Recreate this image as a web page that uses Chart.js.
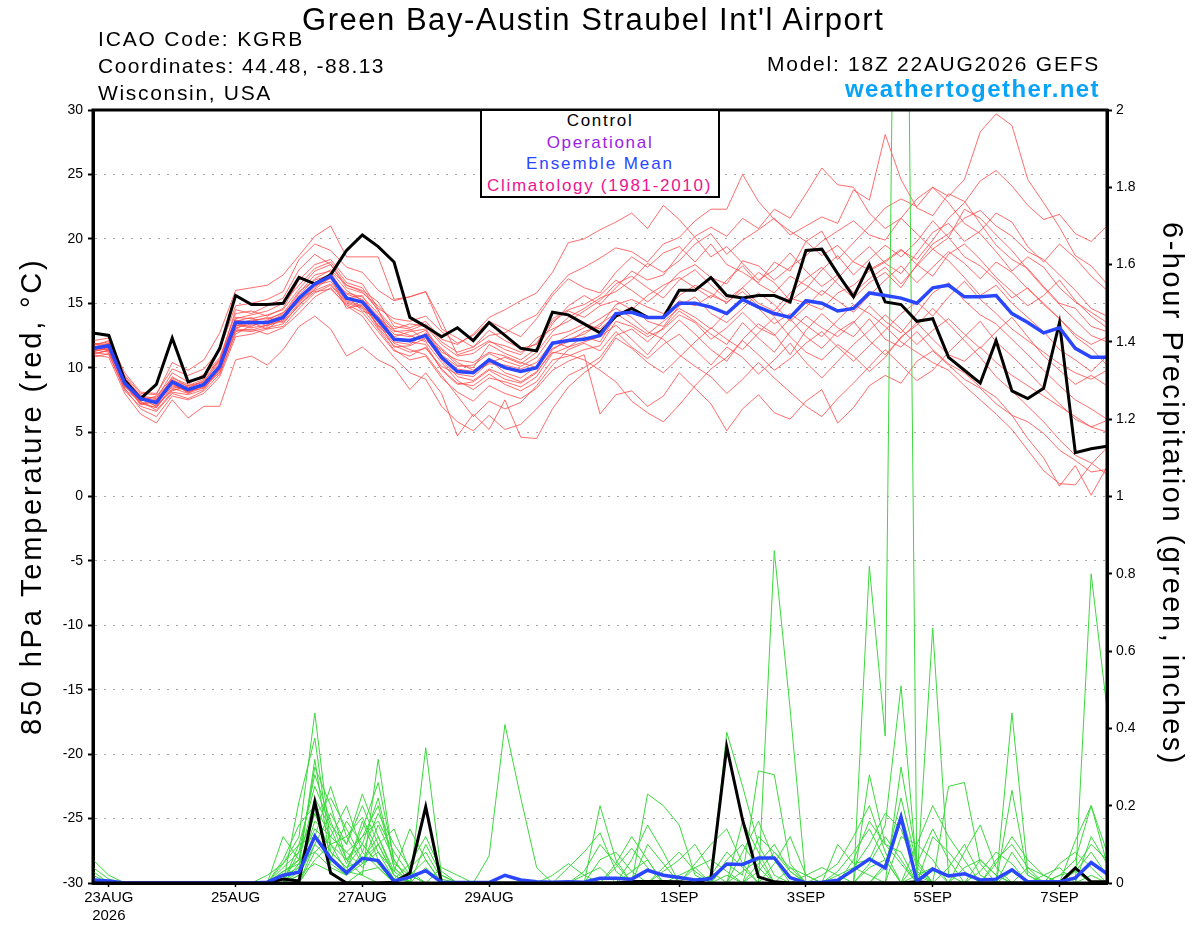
<!DOCTYPE html>
<html>
<head>
<meta charset="utf-8">
<script src="https://cdn.jsdelivr.net/npm/chart.js@4.4.1/dist/chart.umd.min.js"></script>
<style>
html,body{margin:0;padding:0;background:#fff;}
#wrap{position:relative;width:1200px;height:927px;overflow:hidden;font-family:"Liberation Sans",Arial,sans-serif;}
canvas{position:absolute;left:0;top:0;}
.t{position:absolute;white-space:nowrap;line-height:1;color:#000;}
#legend{position:absolute;left:480px;top:109px;width:236px;height:85px;border:2px solid #000;background:#fff;}
.rot{position:absolute;white-space:nowrap;line-height:1;transform-origin:0 0;font-size:29px;}
</style>
</head>
<body>
<div id="wrap">
<canvas id="c" width="1200" height="927"></canvas>
<div id="legend"></div>
<div class="t" id="title" style="font-size:31px;">Green Bay-Austin Straubel Int'l Airport</div>
<div class="t" id="icao" style="font-size:21px;">ICAO Code: KGRB</div>
<div class="t" id="coord" style="font-size:21px;">Coordinates: 44.48, -88.13</div>
<div class="t" id="state" style="font-size:21px;">Wisconsin, USA</div>
<div class="t" id="model" style="font-size:21px;">Model: 18Z 22AUG2026 GEFS</div>
<div class="t" id="site" style="font-size:24px;font-weight:bold;color:#08a2f6;">weathertogether.net</div>
<div class="t" id="lg1" style="font-size:17px;color:#000;">Control</div>
<div class="t" id="lg2" style="font-size:17px;color:#9a1ee6;">Operational</div>
<div class="t" id="lg3" style="font-size:17px;color:#2a46ff;">Ensemble Mean</div>
<div class="t" id="lg4" style="font-size:17px;color:#ee1490;">Climatology (1981-2010)</div>
<div class="rot" id="ytitle">850 hPa Temperature (red, °C)</div>
<div class="rot" id="y2title">6-hour Precipitation (green, inches)</div>
</div>
<script>
// ---------- DATA ----------
// forecast hours from 18Z 22AUG2026, 6-hourly (65 steps)
const tickHours = [6, 54, 102, 150, 222, 270, 318, 366];
const tickLabels = [['23AUG','2026'], '25AUG', '27AUG', '29AUG', '1SEP', '3SEP', '5SEP', '7SEP'];
const tempTicks = [-30,-25,-20,-15,-10,-5,0,5,10,15,20,25,30];
const precipTicks = [0,0.2,0.4,0.6,0.8,1,1.2,1.4,1.6,1.8,2];

// 850 hPa temperature (°C)
const controlTemp = [12.7,12.5,9.0,7.6,8.7,12.3,8.9,9.3,11.5,15.6,14.9,14.9,15.0,
 17.0,16.5,17.2,19.1,20.3,19.4,18.2,13.9,13.2,12.4,13.1,12.1,13.5,
 12.5,11.5,11.3,14.3,14.1,13.4,12.7,14.0,14.6,13.9,13.9,16.0,16.0,
 17.0,15.6,15.4,15.6,15.6,15.1,19.1,19.2,17.3,15.5,18.0,15.1,14.9,
 13.6,13.8,10.8,9.8,8.8,12.1,8.2,7.6,8.4,13.5,3.4,3.7,3.9];
const meanTemp = [11.5,11.7,8.8,7.6,7.3,8.9,8.3,8.7,10.1,13.5,13.5,13.5,13.9,
 15.4,16.5,17.1,15.4,15.1,13.7,12.2,12.1,12.5,10.8,9.7,9.6,10.6,
 10.0,9.7,10.0,11.9,12.1,12.2,12.5,14.2,14.3,13.9,13.9,15.0,15.0,
 14.7,14.2,15.3,14.7,14.2,13.9,15.2,15.0,14.4,14.6,15.8,15.6,15.4,
 15.0,16.2,16.4,15.5,15.5,15.6,14.2,13.5,12.7,13.1,11.5,10.8,10.8];

const t01 = [11.8,12.0,9.3,7.8,7.6,9.6,8.9,9.4,10.8,14.2,14.4,14.0,14.6, 16.8,18.0,18.4,16.9,16.5,14.6,13.8,13.6,14.0,12.8,11.9,12.5,13.6, 13.0,12.4,13.8,15.6,16.9,16.2,15.8,17.4,18.6,17.8,18.9,19.4,18.2, 19.6,18.0,17.4,16.6,18.2,17.5,19.8,20.6,18.4,19.7,21.0,22.4,23.1, 22.5,24.0,23.3,24.6,28.3,29.7,28.8,24.6,22.8,20.9,18.7,17.9,16.5];
const t02 = [11.3,11.5,8.6,7.2,6.9,8.4,8.0,8.5,9.8,13.6,13.9,13.2,14.0, 15.8,17.2,17.5,16.0,15.2,13.1,11.7,11.2,11.5,10.1,9.5,9.3,10.4, 10.8,10.3,11.2,12.8,13.9,14.6,15.4,15.9,16.8,18.1,17.4,18.3,19.6, 20.4,18.8,19.9,20.7,21.6,20.3,21.0,21.7,21.2,23.8,23.0,28.1,24.6, 22.4,21.8,23.5,22.9,21.2,19.5,18.4,17.7,16.3,15.0,14.6,13.2,12.8];
const t03 = [11.9,11.6,9.0,7.4,7.8,9.2,8.7,9.5,10.5,14.5,14.2,14.8,15.4, 17.6,18.8,18.0,16.4,16.0,15.1,13.2,13.0,12.1,11.4,10.2,10.0,11.8, 11.1,10.6,11.5,13.4,14.8,15.6,14.9,16.2,17.5,16.8,17.2,18.8,20.2, 20.9,20.2,21.6,20.8,22.3,21.6,23.5,25.5,24.2,24.0,22.0,20.8,21.6, 20.4,19.2,20.1,18.6,17.9,16.8,15.4,16.2,14.9,13.8,12.6,11.8,12.4];
const t04 = [11.0,11.4,8.9,7.9,7.1,8.2,8.6,8.9,10.6,13.0,13.6,13.9,13.5, 14.8,16.1,17.0,15.6,14.4,13.9,12.8,12.9,13.4,12.0,11.2,11.6,12.5, 12.7,13.5,14.1,15.8,17.2,17.8,18.5,19.3,19.0,18.2,19.6,20.1,21.4, 22.3,22.3,25.0,22.9,21.5,20.6,19.8,18.7,19.5,18.2,17.6,18.3,19.2, 18.0,17.1,18.8,19.6,18.4,17.0,15.9,14.8,15.6,16.8,15.2,14.0,13.1];
const t05 = [11.2,11.0,8.4,6.8,6.2,7.8,7.5,8.0,9.3,12.4,12.6,13.0,13.2, 14.6,15.8,16.4,15.0,14.6,13.0,11.4,10.6,10.9,9.2,8.1,7.4,8.6, 8.0,7.6,8.4,9.8,10.5,11.0,6.4,7.9,8.2,7.0,7.8,9.6,8.4, 7.2,5.1,6.8,7.9,6.5,6.0,7.4,8.3,5.7,6.9,8.6,9.4,8.8, 10.5,11.3,10.2,9.1,8.4,7.2,6.3,5.8,4.9,3.6,2.8,1.9,2.1];
const t06 = [11.6,11.9,9.1,7.5,7.3,8.8,8.1,8.6,10.2,13.4,13.2,13.7,14.3, 15.2,16.6,16.9,15.8,15.5,14.2,12.9,12.5,12.0,10.4,9.0,8.3,9.2, 8.9,8.5,9.3,11.1,11.6,12.0,12.4,13.3,12.2,11.0,12.5,13.7,12.6, 11.4,10.5,12.2,13.4,12.6,11.0,12.9,14.2,13.1,12.4,13.8,12.2,11.6, 12.8,11.4,10.3,9.6,8.5,7.7,6.3,4.5,3.0,0.8,2.4,0.1,2.3];
const t07 = [12.1,12.3,9.6,8.1,8.0,9.9,9.4,9.9,11.4,14.8,15.0,15.3,15.9, 18.4,19.6,19.1,17.8,17.4,16.0,15.2,15.5,15.9,13.0,12.3,11.6,12.9, 12.1,11.5,11.8,13.6,14.4,13.9,14.8,15.2,14.5,15.6,16.4,17.0,16.2, 15.4,16.8,17.9,16.5,15.8,17.1,16.4,15.6,16.9,18.3,19.4,18.1,17.3, 18.9,20.5,21.2,19.8,20.6,22.0,21.3,19.4,18.2,19.6,18.5,17.1,16.0];
const t08 = [10.8,11.1,8.2,7.0,6.6,8.0,7.6,8.2,9.5,12.8,13.0,12.6,13.1, 14.2,15.5,16.2,14.8,14.0,12.3,10.8,9.6,9.1,7.0,5.8,5.1,6.3, 5.2,5.6,6.8,8.1,9.4,10.0,10.8,12.5,13.0,12.0,13.1,14.4,13.6, 12.6,11.8,13.5,12.3,11.2,12.8,14.0,13.1,12.4,13.5,14.8,13.6,12.7, 14.2,15.8,16.6,15.2,14.1,13.4,12.2,11.0,9.8,8.6,7.5,6.8,6.0];
const t09 = [11.4,11.8,9.2,7.7,7.5,9.1,8.4,9.0,10.4,13.9,13.8,14.1,14.5, 16.1,17.5,18.0,16.2,15.8,14.8,13.5,13.1,13.6,12.2,11.8,12.6,13.9, 14.5,15.2,15.8,17.4,19.7,20.0,20.7,21.3,22.0,20.8,22.6,21.5,20.1, 18.6,19.4,18.1,16.8,17.6,18.9,17.5,16.3,17.2,15.8,16.9,17.8,16.5, 17.9,19.2,18.3,17.0,15.6,16.4,15.0,13.9,12.8,11.4,10.6,9.7,10.9];
const t10 = [11.7,11.3,8.7,7.3,6.9,8.6,8.2,8.4,9.7,13.2,13.6,13.4,13.8, 15.6,16.9,17.6,16.4,15.9,14.5,12.0,11.8,12.7,11.5,10.4,9.8,10.6, 9.6,9.2,10.1,11.8,12.5,13.1,13.8,14.6,13.9,12.8,12.2,11.0,10.1, 9.3,8.0,9.1,10.4,9.2,8.1,7.0,6.2,7.6,8.8,10.1,11.4,10.2, 9.0,9.8,11.2,12.4,13.6,12.0,10.9,9.7,8.4,7.2,6.0,5.4,5.9];
const t11 = [11.5,11.4,8.5,7.6,7.0,8.9,8.0,8.8,10.0,13.3,13.1,13.3,13.6, 15.0,16.2,17.4,15.4,15.6,13.6,12.1,12.2,12.6,10.9,9.9,9.7,10.3, 10.2,9.9,10.4,12.0,11.6,12.4,12.0,14.0,14.7,13.6,13.2,14.8,15.5, 14.2,13.5,14.6,15.8,14.9,13.6,14.7,16.0,15.2,14.3,15.6,16.8,17.9, 16.6,17.8,19.0,18.1,16.9,18.2,17.4,16.1,15.0,13.8,12.4,11.5,10.2];
const t12 = [11.1,11.3,8.8,7.1,7.4,8.5,8.3,8.6,10.3,13.1,13.4,13.6,14.1, 15.5,16.4,16.7,15.2,14.8,13.3,11.9,11.4,11.0,9.4,7.8,6.2,7.4, 6.8,7.3,8.6,10.2,11.4,11.9,11.3,12.8,11.6,10.7,11.8,12.6,11.4, 10.2,11.6,10.8,9.5,10.6,11.9,10.4,9.2,10.5,11.8,12.9,14.1,13.0, 11.8,12.9,13.8,12.6,11.5,12.8,13.9,12.4,10.9,9.8,8.7,9.4,8.6];
const t13 = [11.3,11.7,8.9,7.8,7.2,9.3,8.5,8.9,10.0,13.7,13.5,13.0,13.9, 15.1,16.3,17.0,14.6,14.9,13.9,12.4,12.8,13.0,11.2,10.6,10.4,11.2, 10.9,10.4,10.0,11.5,12.0,12.8,13.2,14.9,15.3,14.7,14.2,15.6,16.4, 15.8,15.0,16.2,15.0,14.4,15.8,16.9,17.8,16.5,15.4,16.6,17.4,16.2, 18.0,19.6,20.4,21.6,22.2,21.0,20.2,19.0,18.4,17.2,16.0,14.6,14.0];
const t14 = [11.4,11.2,8.3,7.4,6.7,8.1,7.9,8.3,9.9,12.9,12.8,13.1,13.4, 14.9,15.9,16.1,14.9,14.3,12.8,11.3,10.9,11.6,9.9,8.8,8.6,9.5, 8.7,8.2,8.9,10.6,10.9,11.4,11.7,13.6,13.2,12.4,13.0,14.1,13.5, 12.2,13.1,14.3,13.1,12.5,13.8,12.4,11.5,12.8,13.6,12.1,11.0,12.3, 13.5,12.2,11.0,10.5,11.6,10.4,9.4,8.6,7.8,7.0,6.2,5.4,5.0];
const t15 = [11.9,11.8,9.4,8.0,7.9,10.4,9.8,10.6,12.7,16.0,16.2,16.4,17.2, 18.7,20.2,21.0,18.6,18.6,18.6,15.3,15.5,15.9,13.6,11.0,11.4,12.1, 11.4,11.0,12.3,13.0,13.6,14.4,15.2,16.5,17.1,16.2,15.4,16.8,17.6, 16.4,15.3,16.2,17.4,16.6,15.2,16.1,17.6,18.7,17.2,18.4,19.5,18.6, 19.8,21.4,20.1,22.3,21.6,20.3,19.1,17.6,16.2,14.9,13.7,12.5,12.0];
const t16 = [11.0,10.8,8.0,6.4,5.7,7.5,6.1,7.0,7.0,10.6,10.9,10.2,11.4, 13.2,14.0,13.0,10.9,11.6,10.6,10.0,8.3,9.6,8.0,4.7,6.4,5.2, 7.5,4.6,4.5,6.8,8.5,9.6,10.5,12.3,11.5,10.4,9.6,10.8,12.0, 13.1,12.2,11.4,12.7,13.9,12.4,11.2,10.6,11.8,10.9,9.7,10.8,12.4, 13.3,14.6,13.4,12.1,10.8,9.3,8.2,7.0,5.8,4.4,3.2,2.6,1.7];
const t17 = [11.6,11.5,8.7,7.5,7.4,8.7,8.1,8.7,10.1,13.4,13.7,13.8,14.2, 15.9,16.8,17.2,15.7,15.3,14.0,12.6,12.4,12.9,11.0,10.1,10.2,11.1, 10.5,10.1,10.8,12.5,12.8,13.4,13.0,14.1,14.6,13.8,14.0,15.2,14.8, 15.6,15.1,15.9,14.8,14.0,15.4,15.0,14.5,15.8,16.4,17.5,18.2,19.1, 18.4,19.9,21.6,22.8,24.5,25.3,24.1,22.6,21.5,21.9,20.4,19.8,21.0];
const t18 = [11.2,11.6,8.6,7.7,7.0,8.3,8.4,8.5,9.9,13.0,12.9,13.3,13.7, 15.3,16.0,16.5,15.1,14.7,13.5,11.6,11.7,12.3,10.6,9.3,9.0,9.9, 9.4,8.9,9.7,11.2,11.0,10.6,9.8,8.9,7.4,6.5,5.8,7.1,8.6, 9.9,10.8,12.1,11.0,9.8,10.7,11.9,12.8,11.6,10.5,11.7,12.9,14.2, 15.1,14.0,15.5,16.7,15.3,14.2,13.0,12.1,11.2,10.3,9.6,9.1,9.8];
const t19 = [11.7,12.1,9.2,7.6,7.7,9.0,8.6,9.1,10.7,13.8,14.1,14.4,15.0, 16.4,17.7,18.2,16.6,16.2,14.4,13.0,13.4,13.2,11.8,10.9,11.1,12.0, 11.7,11.2,11.9,13.8,14.5,14.9,15.6,16.8,16.0,15.1,16.1,17.4,18.0, 17.0,16.5,18.3,17.9,16.8,17.8,18.7,19.8,20.6,21.4,20.3,19.9,21.6, 23.1,24.0,22.8,21.2,20.4,19.0,17.5,18.6,17.8,16.2,15.1,14.3,13.5];
const t20 = [11.3,11.9,9.0,7.2,7.5,9.0,8.3,8.6,9.6,12.6,13.3,13.5,13.8, 15.2,16.5,17.1,15.5,15.0,13.2,12.3,12.0,11.8,9.8,8.7,8.9,9.8, 9.1,8.8,9.6,11.4,12.2,12.6,13.4,14.2,13.4,12.6,13.6,14.6,13.9, 13.0,14.3,15.2,14.6,13.4,14.2,13.3,12.4,13.7,14.9,14.2,13.2,12.0, 11.2,10.4,9.8,8.6,7.5,6.4,5.2,3.6,2.0,1.0,0.9,2.5,3.8];

// 6-hour precipitation (inches)
const controlPrecip = [0.005,0,0,0,0,0,0,0,0,0,0,0,0.01, 0.005,0.21,0.026,0,0,0,0.002,0.026,0.197,0,0,0,0, 0,0,0,0,0,0,0,0,0.004,0.004,0.004,0.003,0, 0.013,0.352,0.163,0.016,0.003,0,0,0,0,0,0,0,0, 0.003,0,0,0,0,0,0,0,0,0,0.039,0.003,0.003];
const meanPrecip = [0.008,0.005,0,0,0,0,0,0,0,0,0,0.002,0.02, 0.028,0.121,0.064,0.026,0.064,0.058,0.005,0.015,0.032,0.002,0.001,0.001,0.001, 0.02,0.008,0.003,0.002,0.003,0.002,0.012,0.012,0.01,0.033,0.02,0.014,0.008, 0.011,0.049,0.048,0.065,0.065,0.014,0,0.002,0.007,0.034,0.062,0.039,0.17, 0.004,0.036,0.018,0.024,0.008,0.01,0.034,0.003,0.003,0.003,0.013,0.053,0.024];

const p01 = [.06,.02,0,0,0,0,0,0,0,0,0,0,.05, .12,.44,.1,.03,.02,0,0,0,0,0,0,0,.07, .41,.22,.04,0,0,0,0,0,0,0,0,0,0, 0,.02,0,0,0,0,0,0,0,0,.82,.38,4.2, 0,0,0,0,0,0,0,0,0,0,0,.02,0];
const p02 = [.04,.01,0,0,0,0,0,0,0,0,0,0,0, .21,.375,.08,.04,.1,.05,0,0,.04,0,0,0,0, 0,0,0,0,0,0,.2,.06,0,0,0,0,0, 0,.05,.02,.29,.28,.05,0,0,0,0,0,0,0, 0,.66,.02,0,0,0,0,0,0,0,.11,.2,.05];
const p03 = [0,0,0,0,0,0,0,0,0,0,0,0,.12, .06,.3,.2,.06,.02,.32,.05,.02,0,0,0,0,0, 0,0,0,0,0,0,0,0,0,.23,.2,.15,.02, 0,0,0,0,.86,.45,0,0,0,0,0,0,0, 0,0,0,0,0,0,.44,.03,0,0,0,.8,.45];
const p04 = [0,0,0,0,0,0,0,0,0,0,0,0,0, .1,.25,.15,.1,.23,.12,.03,.14,.06,0,0,0,0, 0,0,0,0,0,0,0,.05,.12,.06,0,0,0, 0,.39,.25,.1,.02,0,0,0,0,0,.28,.1,.05, 0,0,.25,.26,.05,0,0,0,0,0,0,0,0];
const p05 = [0,0,0,0,0,0,0,0,0,0,0,0,.06, .15,.2,.12,.08,.12,.2,.04,0,.35,.02,0,0,0, 0,0,0,0,0,0,0,0,0,0,0,0,0, 0,0,.16,.08,0,0,0,0,.1,.05,.06,.15,.51, .03,0,0,0,0,0,.24,.02,0,0,0,0,0];
const p06 = [.03,0,0,0,0,0,0,0,0,0,0,0,0, .08,.18,.22,.14,.06,.1,.02,0,0,0,0,0,0, 0,0,0,0,.04,.08,.13,.03,0,0,0,0,.05, .1,.14,.05,0,0,0,0,.02,.05,.12,.2,.08,0, 0,0,0,0,.03,.08,.05,0,0,.02,.06,.2,.08];
const p07 = [0,0,0,0,0,0,0,0,0,0,0,0,.03, .05,.14,.1,.12,.17,.08,.01,.05,.12,.03,0,0,0, 0,0,0,0,0,0,0,0,.06,.15,.08,0,0, 0,0,0,.05,.1,.03,0,0,0,0,0,0,0, .1,.2,.12,.06,0,0,0,0,.02,.04,0,0,0];
const p08 = [0,0,0,0,0,0,0,0,0,0,0,.02,.05, .1,.12,.25,.12,.05,.15,.06,0,0,0,0,0,0, 0,0,0,0,0,0,0,0,0,0,.03,.06,.1, .03,0,0,0,0,0,0,0,0,.04,.1,.18,.14, .02,0,0,0,0,.05,.12,.06,.02,0,0,0,0];
const p09 = [0,0,0,0,0,0,0,0,0,0,0,0,0, .04,.32,.05,.02,.08,.18,.1,.04,.08,.01,0,0,0, 0,0,0,0,0,.03,.1,.05,0,0,0,0,0, 0,0,.08,.16,.06,0,0,0,0,0,0,.04,.22, .05,0,0,.08,.15,.04,0,0,0,0,0,.12,.05];
const p10 = [0,0,0,0,0,0,0,0,0,0,0,0,.02, .06,.22,.14,.05,.14,.26,.06,0,.1,.02,0,0,0, 0,0,0,0,0,0,0,0,0,.1,.05,0,0, 0,.06,.1,.04,0,0,0,0,0,0,0,0,.12, .1,.06,0,0,0,0,.08,.02,0,0,0,0,0];
const p11 = [0,0,0,0,0,0,0,0,0,0,0,0,0, 0,.1,.18,.1,.2,.1,.02,0,0,0,0,0,0, 0,0,0,0,0,0,0,.04,.09,.04,0,0,0, 0,0,0,0,.05,.12,.02,0,0,0,.05,.12,.06, 0,0,.04,.1,.02,0,0,0,0,0,.03,.08,.02];
const p12 = [0,0,0,0,0,0,0,0,0,0,0,0,0, .03,.16,.12,.08,.04,.1,.14,.03,0,0,0,0,0, 0,0,0,.02,.05,.02,0,0,0,0,0,0,0, .02,.08,.04,0,0,0,0,0,.03,.08,.14,.06,0, 0,0,0,0,0,.06,.1,.04,0,0,0,0,0];
const p13 = [.02,0,0,0,0,0,0,0,0,0,0,0,.04, .08,.28,.16,.06,.1,.05,0,.02,.06,0,0,0,0, 0,0,0,0,0,0,0,0,0,0,0,0,0, 0,0,0,.12,.08,.03,0,0,0,0,0,0,.3, .06,0,0,0,0,0,0,0,0,.05,.08,.04,0];
const p14 = [0,0,0,0,0,0,0,0,0,0,0,0,0, .05,.12,.06,.16,.1,.22,.04,0,0,0,0,0,0, 0,0,0,0,0,0,0,0,0,0,.04,.08,.03, 0,0,0,0,0,0,.02,.04,.02,0,0,0,0, 0,.12,.08,.03,0,0,0,0,0,0,0,0,0];
const p15 = [0,0,0,0,0,0,0,0,0,0,0,0,.03, .06,.08,.12,.2,.08,.04,0,0,0,.04,.02,0,0, 0,0,0,0,0,0,.06,.08,.03,0,0,0,0, 0,0,0,0,0,0,0,0,0,.06,.16,.1,.08, 0,0,0,0,.06,.02,0,0,0,0,0,0,0];
const p16 = [0,0,0,0,0,0,0,0,0,0,0,0,0, 0,.06,.1,.06,.12,.16,.08,.02,0,0,0,0,0, 0,0,0,0,0,0,0,0,0,0,0,0,.04, .06,.03,0,0,0,.04,.02,0,0,0,0,0,0, .05,.14,.06,0,0,0,0,.04,.02,0,0,0,0];
const p17 = [0,0,0,0,0,0,0,0,0,0,0,0,.02, .04,.18,.08,.04,.06,.12,.02,0,0,0,0,0,0, 0,0,0,0,0,0,0,0,.03,.06,0,0,0, 0,0,0,.03,.08,.04,0,0,0,0,0,.05,.18, .04,0,0,0,0,0,0,0,0,0,.04,.1,.06];
const p18 = [.01,0,0,0,0,0,0,0,0,0,0,0,0, .02,.1,.06,.03,.16,.06,0,0,0,0,0,0,0, 0,0,0,0,0,.02,.04,0,0,0,0,0,0, 0,0,.03,.06,0,0,0,0,0,0,.04,.06,0, 0,0,0,.04,.06,.02,0,0,0,0,0,0,0];
const p19 = [0,0,0,0,0,0,0,0,0,0,0,0,0, 0,.08,.04,.02,.05,.08,.03,0,0,0,0,0,0, 0,0,0,0,0,0,0,0,0,0,0,.02,.04, 0,0,0,0,0,0,0,0,.02,.04,.02,0,0, 0,0,0,0,0,0,.03,0,0,0,0,0,0];
const p20 = [0,0,0,0,0,0,0,0,0,0,0,0,0, .02,.05,.03,0,.03,.04,0,0,0,0,0,0,0, 0,0,0,0,0,0,0,0,0,0,0,0,0, 0,0,0,0,0,0,0,0,0,0,0,0,0, .02,.04,0,0,0,0,0,0,0,.02,.03,0,0];

const tempMembers = [t01,t02,t03,t04,t05,t06,t07,t08,t09,t10,t11,t12,t13,t14,t15,t16,t17,t18,t19,t20];
const precipMembers = [p01,p02,p03,p04,p05,p06,p07,p08,p09,p10,p11,p12,p13,p14,p15,p16,p17,p18,p19,p20];

// ---------- CHART ----------
const STEP_HOURS = 6;
const toXY = arr => arr.map((v, i) => ({x: i * STEP_HOURS, y: v}));
const FONT = '"Liberation Sans", Arial, sans-serif';

const datasets = [
  {data: toXY(meanTemp), yAxisID: 'y', borderColor: '#2a46ff', borderWidth: 3.5},
  {data: toXY(controlTemp), yAxisID: 'y', borderColor: '#000', borderWidth: 3},
  {data: toXY(meanPrecip), yAxisID: 'y2', borderColor: '#2a46ff', borderWidth: 3.5},
  {data: toXY(controlPrecip), yAxisID: 'y2', borderColor: '#000', borderWidth: 3},
];
precipMembers.forEach(m => datasets.push({data: toXY(m), yAxisID: 'y2', borderColor: 'rgb(60,216,60)', borderWidth: 1}));
tempMembers.forEach(m => datasets.push({data: toXY(m), yAxisID: 'y', borderColor: 'rgba(255,72,72,0.8)', borderWidth: 1}));
datasets.forEach(d => { d.pointRadius = 0; d.tension = 0; d.clip = 0; d.fill = false; });

const framePlugin = {
  id: 'frame',
  afterDatasetsDraw(chart) {
    const {ctx, chartArea: a} = chart;
    ctx.save();
    ctx.strokeStyle = '#000';
    ctx.lineWidth = 3;
    ctx.strokeRect(a.left, a.top, a.right - a.left, a.bottom - a.top);
    ctx.restore();
  }
};

new Chart(document.getElementById('c'), {
  type: 'line',
  data: {datasets},
  options: {
    responsive: false,
    animation: false,
    devicePixelRatio: 1,
    layout: {padding: {top: 110, left: 0, right: 0, bottom: 0}},
    plugins: {legend: {display: false}, tooltip: {enabled: false}, title: {display: false}},
    scales: {
      x: {
        type: 'linear', position: 'bottom', min: 0, max: 384,
        afterBuildTicks: s => { s.ticks = tickHours.map(v => ({value: v})); },
        afterFit: s => { s.height = 44; },
        ticks: {
          autoSkip: false, maxRotation: 0, padding: 2, color: '#000',
          font: {family: FONT, size: 15},
          callback: v => { const k = tickHours.indexOf(v); return k >= 0 ? tickLabels[k] : ''; }
        },
        grid: {drawOnChartArea: false, tickLength: 4, tickColor: '#000', tickWidth: 1.5},
        border: {display: true, color: '#000', width: 3}
      },
      y: {
        type: 'linear', position: 'left', min: -30, max: 30,
        afterBuildTicks: s => { s.ticks = tempTicks.map(v => ({value: v})); },
        afterFit: s => { s.width = 93; },
        ticks: {padding: 5, color: '#000', font: {family: FONT, size: 14}},
        grid: {color: '#a8a8a8', lineWidth: 1, tickLength: 5, tickColor: '#000', tickWidth: 2, tickBorderDash: []},
        border: {display: true, color: '#000', width: 3, dash: [2, 7]}
      },
      y2: {
        type: 'linear', position: 'right', min: 0, max: 2,
        afterBuildTicks: s => { s.ticks = precipTicks.map(v => ({value: v})); },
        afterFit: s => { s.width = 93; },
        ticks: {padding: 4, color: '#000', font: {family: FONT, size: 14},
          callback: v => String(+(+v).toFixed(1))},
        grid: {drawOnChartArea: false, tickLength: 5, tickColor: '#000', tickWidth: 2},
        border: {display: true, color: '#000', width: 3}
      }
    }
  },
  plugins: [framePlugin]
});

// ---------- TEXT PLACEMENT ----------
const mctx = document.createElement('canvas').getContext('2d');
function place(id, left, baseline, width) {
  const el = document.getElementById(id);
  const cs = getComputedStyle(el);
  const fs = parseFloat(cs.fontSize);
  mctx.font = cs.fontWeight + ' ' + cs.fontSize + ' ' + FONT;
  const txt = el.textContent;
  const w = mctx.measureText(txt).width;
  el.style.letterSpacing = ((width - w) / txt.length) + 'px';
  el.style.left = left + 'px';
  el.style.top = (baseline - 0.8465 * fs) + 'px';
}
place('title', 302, 30, 584);
place('icao', 98, 46, 206);
place('coord', 98, 73, 287);
place('state', 98, 100, 174);
place('model', 767, 71, 333);
place('site', 845, 97, 255);
place('lg1', 566.7, 126.7, 66.7);
place('lg2', 546.7, 148.3, 106.7);
place('lg3', 526, 169.8, 148);
place('lg4', 487, 191.5, 225);

function placeRot(id, x, y, len, deg) {
  const el = document.getElementById(id);
  const cs = getComputedStyle(el);
  mctx.font = cs.fontWeight + ' ' + cs.fontSize + ' ' + FONT;
  const txt = el.textContent;
  const w = mctx.measureText(txt).width;
  el.style.letterSpacing = ((len - w) / txt.length) + 'px';
  el.style.left = x + 'px';
  el.style.top = y + 'px';
  el.style.transform = 'rotate(' + deg + 'deg)';
}
placeRot('ytitle', 17, 735, 478, -90);
placeRot('y2title', 1187, 222, 544, 90);
</script>
</body>
</html>
